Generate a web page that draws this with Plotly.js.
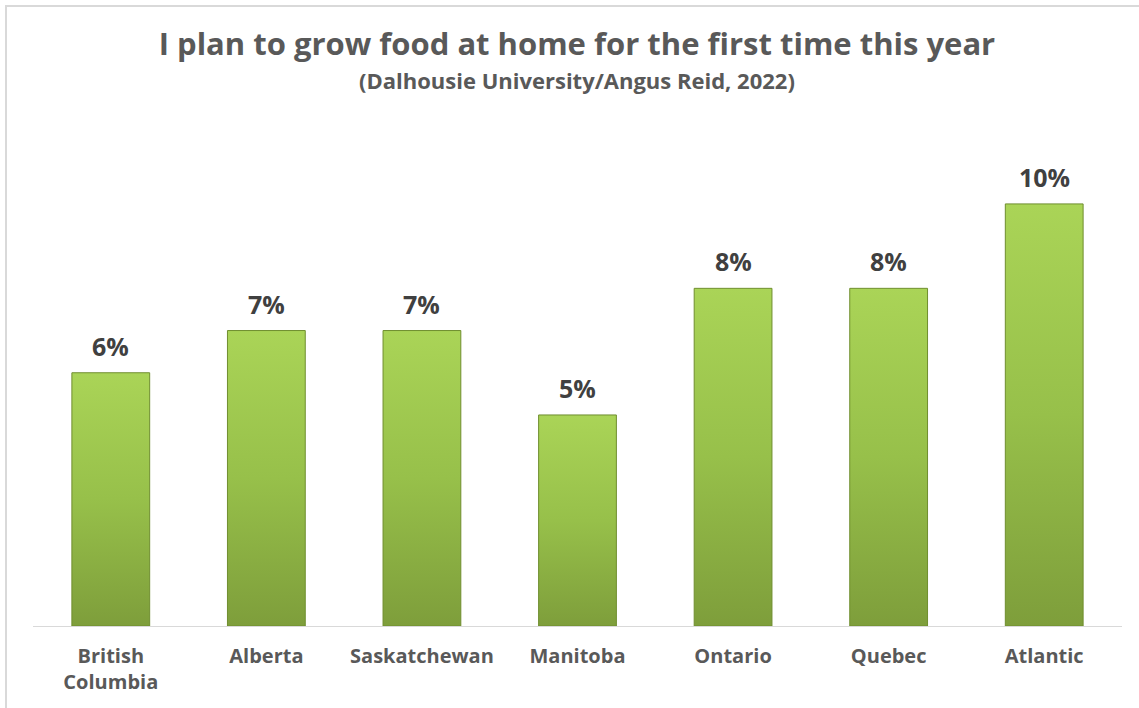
<!DOCTYPE html>
<html>
<head>
<meta charset="utf-8">
<script src="https://cdn.plot.ly/plotly-3.0.1.min.js"></script>
<style>
  html, body { margin: 0; padding: 0; background: #ffffff; }
  #wrap { position: relative; width: 1139px; height: 708px; }
  #chart { width: 1139px; height: 708px; }
  #frame { position: absolute; left: 5px; top: 5px; right: 0; bottom: 0;
           border-top: 2px solid #d9d9d9; border-left: 2px solid #d9d9d9; pointer-events: none; }
</style>
</head>
<body>
<div id="wrap">
  <div id="chart"></div>
  <div id="frame"></div>
</div>
<script>
const categories = ["British<br>Columbia", "Alberta", "Saskatchewan", "Manitoba", "Ontario", "Quebec", "Atlantic"];
const values = [6, 7, 7, 5, 8, 8, 10];
const valueLabels = ["6%", "7%", "7%", "5%", "8%", "8%", "10%"];

const FONT = "Open Sans, Liberation Sans, sans-serif";

const trace = {
  type: "bar",
  x: categories,
  y: values,
  marker: { color: "#94BD45", line: { color: "#6F8E2E", width: 1 } },
  hoverinfo: "skip"
};

const labelAnnotations = categories.map(function (c, i) {
  return {
    x: c, y: values[i], xref: "x", yref: "y",
    text: "<b>" + valueLabels[i] + "</b>",
    showarrow: false, xanchor: "center", yanchor: "bottom", yshift: 8,
    font: { family: FONT, size: 25, color: "#404040" }
  };
});

const layout = {
  width: 1139,
  height: 708,
  margin: { l: 33, r: 17, t: 152, b: 82 },
  paper_bgcolor: "#ffffff",
  plot_bgcolor: "#ffffff",
  bargap: 0.5,
  showlegend: false,
  title: {
    text: "<b>I plan to grow food at home for the first time this year</b>",
    font: { family: FONT, size: 31, color: "#595959" },
    x: 0.4995, xref: "paper", xanchor: "center",
    y: 0.937, yref: "container", yanchor: "middle"
  },
  annotations: [{
    text: "<b>(Dalhousie University/Angus Reid, 2022)</b>",
    xref: "paper", yref: "paper",
    x: 0.4995, y: 1.15,
    xanchor: "center", yanchor: "middle",
    showarrow: false,
    font: { family: FONT, size: 22, color: "#595959" }
  }].concat(labelAnnotations),
  xaxis: {
    showline: true, linecolor: "#d9d9d9", linewidth: 1,
    ticks: "", showgrid: false,
    ticklabelstandoff: 12,
    tickfont: { family: FONT, size: 20, color: "#595959", weight: "bold" }
  },
  yaxis: {
    range: [0, 11.23],
    visible: false, showgrid: false, zeroline: false
  }
};

Plotly.newPlot("chart", [trace], layout, { displayModeBar: false, staticPlot: true }).then(function (gd) {
  const plotH = gd._fullLayout._size.h;
  const top = gd._fullLayout._size.t;
  const yPaper = 1 + (top - 80) / plotH;
  Plotly.relayout(gd, { "annotations[0].y": yPaper }).then(function () {
    const svg = gd.querySelector("svg.main-svg");
    const ns = "http://www.w3.org/2000/svg";
    let defs = svg.querySelector("defs");
    if (!defs) { defs = document.createElementNS(ns, "defs"); svg.insertBefore(defs, svg.firstChild); }
    const grad = document.createElementNS(ns, "linearGradient");
    grad.setAttribute("id", "barGrad");
    grad.setAttribute("x1", "0"); grad.setAttribute("y1", "0");
    grad.setAttribute("x2", "0"); grad.setAttribute("y2", "1");
    [["0", "#AAD457"], ["0.5", "#97C04A"], ["1", "#7E9E3B"]].forEach(function (s) {
      const st = document.createElementNS(ns, "stop");
      st.setAttribute("offset", s[0]); st.setAttribute("stop-color", s[1]);
      grad.appendChild(st);
    });
    defs.appendChild(grad);
    gd.querySelectorAll(".bars .point path").forEach(function (p) {
      p.style.fill = "url(#barGrad)";
    });
  });
});
</script>
</body>
</html>
